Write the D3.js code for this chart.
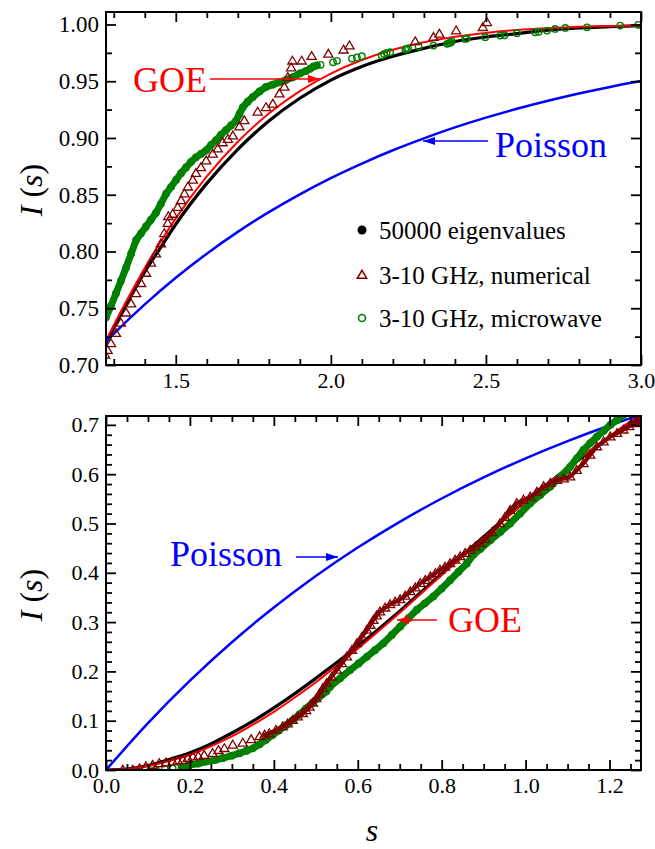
<!DOCTYPE html>
<html>
<head>
<meta charset="utf-8">
<script src="https://cdn.jsdelivr.net/npm/d3@7"></script>
<style>
body { margin: 0; background: #fff; }
</style>
</head>
<body>
<div id="chart"></div>
<script>

// ---- data: [s, I(s)] ----
var goeCurve = [[0,0],[0.05,0.002],[0.1,0.008],[0.15,0.018],[0.2,0.031],[0.25,0.048],[0.3,0.068],[0.35,0.092],
    [0.4,0.118],[0.45,0.147],[0.5,0.178],[0.55,0.212],[0.6,0.246],[0.65,0.282],[0.7,0.319],[0.75,0.357],
    [0.8,0.395],[0.85,0.433],[0.9,0.471],[0.95,0.508],[1.0,0.544],[1.05,0.579],[1.1,0.613],[1.15,0.646],
    [1.2,0.677],[1.25,0.707],[1.3,0.735],[1.35,0.761],[1.4,0.7855],[1.45,0.8082],[1.5,0.8292],[1.6,0.8661],
    [1.7,0.8967],[1.8,0.9215],[1.9,0.9413],[2.0,0.9568],[2.1,0.9687],[2.2,0.9777],[2.3,0.9843],[2.4,0.9892],
    [2.5,0.9926],[2.6,0.9951],[2.7,0.9967],[2.8,0.9979],[2.9,0.9986],[3.0,0.9991]];

var poissonCurve = [[0,0],[0.1,0.0952],[0.2,0.1813],[0.3,0.2592],[0.4,0.3297],[0.5,0.3935],[0.6,0.4512],
    [0.7,0.5034],[0.8,0.5507],[0.9,0.5934],[1.0,0.6321],[1.1,0.6671],[1.2,0.6988],[1.3,0.7275],[1.4,0.7534],
    [1.5,0.7769],[1.6,0.7981],[1.7,0.8173],[1.8,0.8347],[1.9,0.8504],[2.0,0.8647],[2.1,0.8775],[2.2,0.8892],
    [2.3,0.8997],[2.4,0.9093],[2.5,0.9179],[2.6,0.9257],[2.7,0.9328],[2.8,0.9392],[2.9,0.9450],[3.0,0.9502]];

var eigenvalues = [[0,0],[0.05,0.002],[0.1,0.009],[0.15,0.021],[0.2,0.035],[0.25,0.053],[0.3,0.075],[0.35,0.099],
    [0.4,0.126],[0.45,0.155],[0.5,0.186],[0.55,0.218],[0.6,0.251],[0.65,0.286],[0.7,0.322],[0.75,0.360],
    [0.8,0.398],[0.85,0.436],[0.9,0.473],[0.95,0.510],[1.0,0.545],[1.05,0.579],[1.1,0.612],[1.15,0.644],
    [1.2,0.675],[1.25,0.705],[1.3,0.733],[1.35,0.758],[1.4,0.782],[1.45,0.803],[1.5,0.824],[1.6,0.860],
    [1.7,0.890],[1.8,0.915],[1.9,0.935],[2.0,0.951],[2.1,0.963],[2.2,0.972],[2.3,0.979],[2.4,0.985],
    [2.5,0.989],[2.6,0.992],[2.7,0.995],[2.8,0.997],[2.9,0.998],[3.0,0.999]];

var numerical = [[0.040,0.000],[0.064,0.000],[0.080,0.003],[0.095,0.007],[0.111,0.010],[0.127,0.0135],
    [0.143,0.015],[0.159,0.017],[0.171,0.019],[0.183,0.020],[0.195,0.024],[0.207,0.027],[0.220,0.028],
    [0.234,0.030],[0.254,0.034],[0.268,0.040],[0.282,0.044],[0.302,0.051],[0.326,0.055],[0.346,0.062],
    [0.366,0.068],[0.378,0.071],[0.389,0.074],[0.405,0.081],[0.421,0.088],[0.433,0.094],[0.445,0.101],
    [0.457,0.108],[0.469,0.115],[0.477,0.121],[0.485,0.128],[0.493,0.136],[0.501,0.145],[0.509,0.155],
    [0.517,0.166],[0.526,0.176],[0.538,0.189],[0.550,0.203],[0.562,0.216],[0.574,0.230],[0.586,0.243],
    [0.598,0.257],[0.610,0.270],[0.622,0.284],[0.630,0.294],[0.637,0.304],[0.645,0.313],[0.653,0.321],
    [0.665,0.329],[0.677,0.336],[0.689,0.341],[0.701,0.346],[0.713,0.353],[0.725,0.362],[0.737,0.370],
    [0.749,0.379],[0.761,0.385],[0.773,0.392],[0.785,0.399],[0.796,0.406],[0.808,0.412],[0.820,0.419],
    [0.832,0.426],[0.844,0.433],[0.856,0.440],[0.868,0.446],[0.880,0.453],[0.892,0.460],[0.904,0.468],
    [0.920,0.482],[0.939,0.500],[0.951,0.513],[0.963,0.527],[0.979,0.541],[0.995,0.548],[1.011,0.554],
    [1.027,0.564],[1.043,0.575],[1.059,0.582],[1.075,0.588],[1.091,0.591],[1.106,0.595],[1.122,0.608],
    [1.138,0.622],[1.154,0.639],[1.170,0.656],[1.186,0.666],[1.202,0.676],[1.218,0.683],[1.233,0.690],
    [1.247,0.697],[1.261,0.703],[1.272,0.709],
    [1.280,0.713],[1.291,0.719],[1.307,0.728],[1.323,0.737],[1.340,0.746],[1.356,0.754],[1.372,0.763],
    [1.388,0.772],[1.404,0.781],[1.420,0.790],[1.436,0.798],[1.452,0.807],[1.463,0.816],[1.474,0.825],
    [1.476,0.831],[1.490,0.833],[1.506,0.839],[1.517,0.845],[1.528,0.851],[1.539,0.857],[1.555,0.863],
    [1.565,0.869],[1.581,0.874],[1.598,0.880],[1.619,0.886],[1.635,0.8905],[1.651,0.896],[1.668,0.899],
    [1.684,0.902],[1.705,0.910],[1.721,0.9155],[1.764,0.923],[1.791,0.927],[1.813,0.930],[1.834,0.939],
    [1.850,0.945],[1.861,0.9535],[1.872,0.962],[1.876,0.968],[1.906,0.968],[1.938,0.972],[1.992,0.974],
    [2.041,0.9777],[2.060,0.9814],[2.272,0.985],[2.331,0.9888],[2.350,0.9917],[2.404,0.9946],
    [2.490,0.9975],[2.503,1.0019]];

var microwave = [[0.119,0.001],[0.140,0.002],[0.159,0.003],[0.180,0.006],[0.199,0.010],[0.220,0.013],
    [0.238,0.017],[0.260,0.020],[0.278,0.024],[0.300,0.029],[0.318,0.034],[0.335,0.039],[0.350,0.044],
    [0.366,0.052],[0.381,0.061],[0.397,0.071],[0.413,0.081],[0.429,0.091],[0.445,0.101],[0.461,0.113],
    [0.477,0.125],[0.493,0.137],[0.509,0.149],[0.525,0.159],[0.534,0.169],[0.558,0.186],[0.582,0.203],
    [0.602,0.216],[0.622,0.230],[0.641,0.243],[0.661,0.257],[0.681,0.274],[0.701,0.291],[0.721,0.308],
    [0.741,0.325],[0.760,0.338],[0.780,0.352],[0.800,0.368],[0.820,0.385],[0.840,0.402],[0.860,0.419],
    [0.876,0.437],[0.892,0.448],[0.916,0.466],[0.940,0.483],[0.963,0.500],[0.987,0.520],[1.011,0.541],
    [1.035,0.558],[1.059,0.575],[1.083,0.595],[1.106,0.615],[1.122,0.632],[1.138,0.649],[1.154,0.663],
    [1.170,0.676],[1.186,0.688],[1.202,0.700],[1.218,0.710],[1.233,0.720],[1.250,0.730],[1.265,0.738],
    [1.275,0.742],[1.291,0.752],[1.307,0.763],[1.323,0.774],[1.340,0.786],[1.356,0.798],[1.372,0.810],
    [1.388,0.816],[1.404,0.822],[1.420,0.828],[1.436,0.834],[1.452,0.842],[1.469,0.851],[1.485,0.857],
    [1.501,0.863],[1.517,0.869],[1.533,0.874],[1.549,0.879],[1.565,0.883],[1.581,0.886],[1.598,0.889],
    [1.614,0.894],[1.630,0.898],[1.646,0.903],[1.662,0.907],[1.678,0.911],[1.694,0.915],[1.705,0.921],
    [1.716,0.927],[1.732,0.932],[1.748,0.936],[1.770,0.941],[1.791,0.945],[1.812,0.947],[1.833,0.949],
    [1.855,0.951],[1.877,0.9535],[1.901,0.957],[1.920,0.959],[1.933,0.961],[1.944,0.963],[1.955,0.964],
    [1.967,0.9645],[2.007,0.9667],[2.020,0.968],[2.068,0.970],[2.084,0.971],[2.100,0.972],[2.164,0.9727],
    [2.172,0.974],[2.180,0.975],[2.191,0.9756],[2.240,0.978],[2.245,0.9785],[2.249,0.979],[2.283,0.9806],
    [2.331,0.9814],[2.375,0.983],[2.380,0.9835],[2.385,0.984],[2.390,0.985],[2.433,0.9873],[2.438,0.9877],
    [2.498,0.9888],[2.546,0.9902],[2.560,0.9905],[2.600,0.9923],[2.659,0.9931],[2.670,0.9935],
    [2.697,0.9946],[2.723,0.9961],[2.756,0.997],[2.826,0.9975],[2.933,0.999],[2.991,0.9997]];

var legendLabels = ["50000 eigenvalues", "3-10 GHz, numerical", "3-10 GHz, microwave"];

// ---- layout ----
var W = 655, H = 849;
var cRed = "#ff0000", cBlue = "#0000ff", cGreen = "#008000", cMaroon = "#800000";
var SERIF = "Liberation Serif";

var svg = d3.select("#chart").append("svg")
    .attr("xmlns", "http://www.w3.org/2000/svg")
    .attr("width", W)
    .attr("height", H)
    .style("font-family", "'Liberation Serif', serif");

var defs = svg.append("defs");

function steps(a, b, step) {
    // tick values from a to b (inclusive) without float drift
    var n = Math.round((b - a) / step);
    return d3.range(n + 1).map(function(i) { return +(a + i * step).toFixed(4); });
}
function notOn(vals, step) {
    return vals.filter(function(v) { return Math.abs(v / step - Math.round(v / step)) > 1e-6; });
}

var panels = [
    { id: "top", left: 106, right: 641, top: 12, bottom: 365,
      xDomain: [1.275, 3.0], yDomain: [0.70, 1.011],
      xMajor: [1.5, 2.0, 2.5, 3.0], xMinor: notOn(steps(1.3, 2.9, 0.1), 0.5),
      yMajor: steps(0.70, 1.00, 0.05), yMinor: notOn(steps(0.725, 0.975, 0.025), 0.05),
      xFmt: d3.format(".1f"), yFmt: d3.format(".2f"), yLabelY: 190 },
    { id: "bottom", left: 106, right: 641, top: 416, bottom: 770,
      xDomain: [0, 1.275], yDomain: [0, 0.718],
      xMajor: steps(0, 1.2, 0.2), xMinor: notOn(steps(0.05, 1.25, 0.05), 0.2),
      yMajor: steps(0, 0.7, 0.1), yMinor: notOn(steps(0.02, 0.70, 0.02), 0.1),
      xFmt: d3.format(".1f"), yFmt: d3.format(".1f"), yLabelY: 595 }
];

var triPath = "M0,-4.6L4.6,3.2L-4.6,3.2Z";

panels.forEach(function(p) {
    var x = d3.scaleLinear().domain(p.xDomain).range([p.left, p.right]);
    var y = d3.scaleLinear().domain(p.yDomain).range([p.bottom, p.top]);

    defs.append("clipPath").attr("id", "clip-" + p.id)
        .append("rect")
        .attr("x", p.left).attr("y", p.top)
        .attr("width", p.right - p.left).attr("height", p.bottom - p.top);

    var g = svg.append("g").attr("clip-path", "url(#clip-" + p.id + ")");

    var line = d3.line()
        .x(function(d) { return x(d[0]); })
        .y(function(d) { return y(d[1]); })
        .curve(d3.curveMonotoneX);
    var rawLine = d3.line()
        .x(function(d) { return x(d[0]); })
        .y(function(d) { return y(d[1]); });

    // 50000 eigenvalues (dense dots -> thick line)
    g.append("path").datum(eigenvalues)
        .attr("d", line).attr("fill", "none")
        .attr("stroke", "#000").attr("stroke-width", 3.2);

    // GOE
    g.append("path").datum(goeCurve)
        .attr("d", line).attr("fill", "none")
        .attr("stroke", cRed).attr("stroke-width", 2);

    // Poisson
    g.append("path").datum(poissonCurve)
        .attr("d", line).attr("fill", "none")
        .attr("stroke", cBlue).attr("stroke-width", 2.5);

    // microwave: overlapping circles form a band where dense
    g.append("path")
        .datum(microwave.filter(function(d) { return d[0] >= 0.16 && d[0] <= 1.96; }))
        .attr("d", rawLine).attr("fill", "none")
        .attr("stroke", cGreen).attr("stroke-width", 7)
        .attr("stroke-linejoin", "round").attr("stroke-linecap", "round");
    g.selectAll(".mw").data(microwave).enter().append("circle")
        .attr("class", "mw")
        .attr("cx", function(d) { return x(d[0]); })
        .attr("cy", function(d) { return y(d[1]); })
        .attr("r", 3.2)
        .attr("fill", "none")
        .attr("stroke", cGreen).attr("stroke-width", 1.4);

    // numerical triangles
    g.append("path")
        .datum(numerical.filter(function(d) { return d[0] >= 0.37 && d[0] <= 1.275; }))
        .attr("d", rawLine).attr("fill", "none")
        .attr("stroke", cMaroon).attr("stroke-width", 4)
        .attr("stroke-linejoin", "round").attr("stroke-linecap", "round");
    g.selectAll(".num").data(numerical).enter().append("path")
        .attr("class", "num")
        .attr("d", triPath)
        .attr("transform", function(d) { return "translate(" + x(d[0]) + "," + y(d[1]) + ")"; })
        .attr("fill", "none")
        .attr("stroke", cMaroon).attr("stroke-width", 1.3);

    // axes: ticks inside on all four sides
    function drawAxis(axisFn, scale, major, minor, fmt, tx, ty, showLabels) {
        var ax = svg.append("g")
            .attr("transform", "translate(" + tx + "," + ty + ")");
        ax.call(axisFn(scale).tickValues(major).tickSize(-10).tickPadding(7)
            .tickFormat(showLabels ? fmt : ""));
        var mi = svg.append("g")
            .attr("transform", "translate(" + tx + "," + ty + ")");
        mi.call(axisFn(scale).tickValues(minor).tickSize(-6).tickFormat(""));
        [ax, mi].forEach(function(a) {
            a.attr("font-family", null);
            a.select(".domain").remove();
            a.selectAll("line").attr("stroke", "#000").attr("stroke-width", 1.8);
            a.selectAll("text").attr("fill", "#000").attr("font-size", 22)
                .attr("font-family", SERIF);
        });
        return ax;
    }
    drawAxis(d3.axisBottom, x, p.xMajor, p.xMinor, p.xFmt, 0, p.bottom, true);
    drawAxis(d3.axisTop, x, p.xMajor, p.xMinor, p.xFmt, 0, p.top, false);
    var yl = drawAxis(d3.axisLeft, y, p.yMajor, p.yMinor, p.yFmt, p.left, 0, true);
    drawAxis(d3.axisRight, y, p.yMajor, p.yMinor, p.yFmt, p.right, 0, false);
    if (p.id === "top") yl.selectAll("text").attr("font-size", 23);

    svg.append("rect")
        .attr("x", p.left).attr("y", p.top)
        .attr("width", p.right - p.left).attr("height", p.bottom - p.top)
        .attr("fill", "none").attr("stroke", "#000").attr("stroke-width", 2);

    // y title  I (s)
    var yt = svg.append("text")
        .attr("transform", "translate(42," + p.yLabelY + ") rotate(-90)")
        .attr("text-anchor", "middle")
        .attr("font-family", SERIF)
        .attr("font-size", 32);
    yt.append("tspan").attr("font-style", "italic").text("I");
    yt.append("tspan").text(" (");
    yt.append("tspan").attr("font-style", "italic").text("s");
    yt.append("tspan").text(")");
});

// x title
svg.append("text")
    .attr("x", 372).attr("y", 841)
    .attr("text-anchor", "middle")
    .attr("font-family", SERIF)
    .attr("font-size", 32).attr("font-style", "italic")
    .text("s");

// ---- annotations ----
function arrowHead(id, color) {
    defs.append("marker").attr("id", id)
        .attr("viewBox", "0 0 12 8").attr("refX", 12).attr("refY", 4)
        .attr("markerWidth", 12).attr("markerHeight", 8)
        .attr("markerUnits", "userSpaceOnUse").attr("orient", "auto")
        .append("path").attr("d", "M0,0L12,4L0,8Z").attr("fill", color);
}
arrowHead("arrRed", cRed);
arrowHead("arrBlue", cBlue);

var notes = [
    { text: "GOE", color: cRed, tx: 133, ty: 92, a: [210, 79, 320, 79], m: "arrRed" },
    { text: "Poisson", color: cBlue, tx: 495, ty: 157, a: [488, 141, 423, 141], m: "arrBlue" },
    { text: "Poisson", color: cBlue, tx: 170, ty: 566, a: [296, 557, 338, 557], m: "arrBlue" },
    { text: "GOE", color: cRed, tx: 448, ty: 632, a: [437, 620, 397, 620], m: "arrRed" }
];
notes.forEach(function(n) {
    svg.append("text").attr("x", n.tx).attr("y", n.ty)
        .attr("font-family", SERIF)
        .attr("font-size", 36).attr("fill", n.color).text(n.text);
    svg.append("line")
        .attr("x1", n.a[0]).attr("y1", n.a[1]).attr("x2", n.a[2]).attr("y2", n.a[3])
        .attr("stroke", n.color).attr("stroke-width", 1.5)
        .attr("marker-end", "url(#" + n.m + ")");
});

// ---- legend ----
var legend = svg.append("g").attr("transform", "translate(362,0)");
var rowsY = [230, 275, 318];
legend.append("circle").attr("cx", 0).attr("cy", rowsY[0]).attr("r", 4.5).attr("fill", "#000");
legend.append("path").attr("d", triPath)
    .attr("transform", "translate(0," + rowsY[1] + ")")
    .attr("fill", "none").attr("stroke", cMaroon).attr("stroke-width", 1.6);
legend.append("circle").attr("cx", 0).attr("cy", rowsY[2]).attr("r", 3.5)
    .attr("fill", "none").attr("stroke", cGreen).attr("stroke-width", 1.6);
legend.selectAll(".lt").data(legendLabels).enter().append("text")
    .attr("class", "lt")
    .attr("x", 17)
    .attr("y", function(d, i) { return rowsY[i] + 8.5; })
    .attr("font-family", SERIF)
    .attr("font-size", 25)
    .text(function(d) { return d; });

</script>
</body>
</html>
